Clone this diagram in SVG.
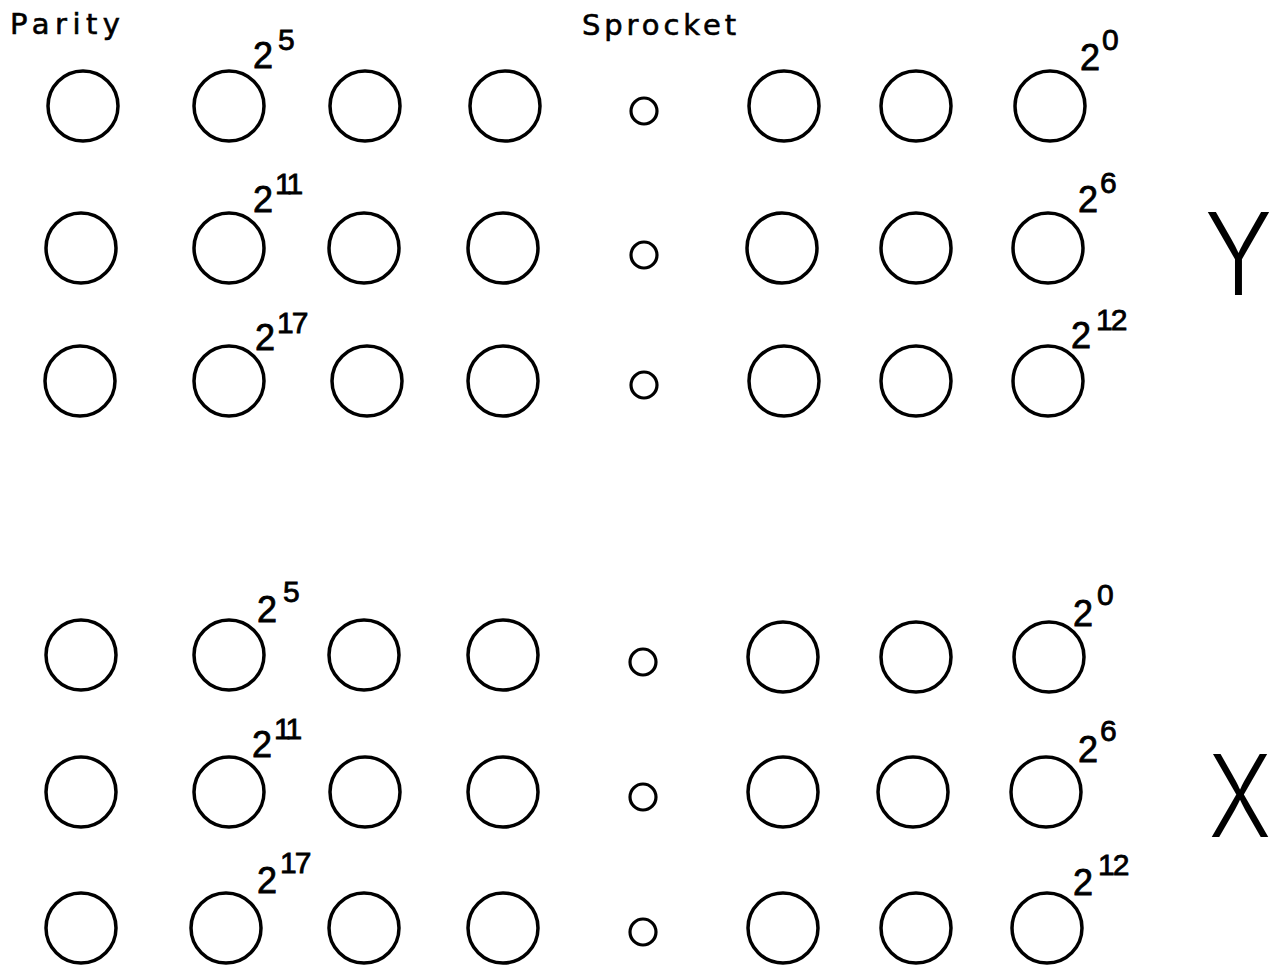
<svg xmlns="http://www.w3.org/2000/svg" width="1278" height="971" viewBox="0 0 1278 971">
<style>
.hole{fill:none;stroke:#000;stroke-width:3.5}
.spr{fill:none;stroke:#000;stroke-width:3.2}
.lbl{font-family:"DejaVu Sans","Liberation Sans",sans-serif;font-size:29px;fill:#000;stroke:#000;stroke-width:0.6}
.b{font-family:"Liberation Sans",Arial,sans-serif;font-size:36px;fill:#000;stroke:#000;stroke-width:0.8}
.e{font-family:"Liberation Sans",Arial,sans-serif;font-size:30px;fill:#000;stroke:#000;stroke-width:0.8}
.big{font-family:Inter,"Liberation Sans",sans-serif;font-weight:350;font-size:114px;fill:#000}
</style>
<rect width="1278" height="971" fill="#fff"/>
<g id="headers">
<text class="lbl" x="10" y="34" textLength="110" lengthAdjust="spacing">Parity</text>
<text class="lbl" x="582" y="35" textLength="154" lengthAdjust="spacing">Sprocket</text>
</g>
<g id="row1">
<circle class="hole" cx="83" cy="106" r="35"/><circle class="hole" cx="229" cy="106" r="35"/><circle class="hole" cx="365" cy="106" r="35"/><circle class="hole" cx="505" cy="106" r="35"/>
<circle class="spr" cx="644" cy="111" r="13"/>
<circle class="hole" cx="784" cy="106" r="35"/><circle class="hole" cx="916" cy="106" r="35"/><circle class="hole" cx="1050" cy="106" r="35"/>
<text class="b" x="253" y="68">2</text><text class="e" x="278" y="50">5</text>
<text class="b" x="1080" y="70">2</text><text class="e" x="1102" y="50">0</text>
</g>
<g id="row2">
<circle class="hole" cx="81" cy="248" r="35"/><circle class="hole" cx="229" cy="248" r="35"/><circle class="hole" cx="364" cy="248" r="35"/><circle class="hole" cx="503" cy="248" r="35"/>
<circle class="spr" cx="644" cy="255" r="13"/>
<circle class="hole" cx="782" cy="248" r="35"/><circle class="hole" cx="916" cy="248" r="35"/><circle class="hole" cx="1048" cy="248" r="35"/>
<text class="b" x="253" y="212">2</text><text class="e" x="275" y="194" letter-spacing="-3">11</text>
<text class="b" x="1078" y="212">2</text><text class="e" x="1100" y="193">6</text>
</g>
<g id="row3">
<circle class="hole" cx="80" cy="381" r="35"/><circle class="hole" cx="229" cy="381" r="35"/><circle class="hole" cx="367" cy="381" r="35"/><circle class="hole" cx="503" cy="381" r="35"/>
<circle class="spr" cx="644" cy="385" r="13"/>
<circle class="hole" cx="784" cy="381" r="35"/><circle class="hole" cx="916" cy="381" r="35"/><circle class="hole" cx="1048" cy="381" r="35"/>
<text class="b" x="255" y="350">2</text><text class="e" x="277" y="333" letter-spacing="-2">17</text>
<text class="b" x="1071" y="348">2</text><text class="e" x="1096" y="330" letter-spacing="-2">12</text>
</g>
<g id="row4">
<circle class="hole" cx="81" cy="655" r="35"/><circle class="hole" cx="229" cy="655" r="35"/><circle class="hole" cx="364" cy="655" r="35"/><circle class="hole" cx="503" cy="655" r="35"/>
<circle class="spr" cx="643" cy="662" r="13"/>
<circle class="hole" cx="783" cy="657" r="35"/><circle class="hole" cx="916" cy="657" r="35"/><circle class="hole" cx="1049" cy="657" r="35"/>
<text class="b" x="257" y="622">2</text><text class="e" x="283" y="602">5</text>
<text class="b" x="1073" y="626">2</text><text class="e" x="1097" y="605">0</text>
</g>
<g id="row5">
<circle class="hole" cx="81" cy="792" r="35"/><circle class="hole" cx="229" cy="792" r="35"/><circle class="hole" cx="365" cy="792" r="35"/><circle class="hole" cx="503" cy="792" r="35"/>
<circle class="spr" cx="643" cy="797" r="13"/>
<circle class="hole" cx="783" cy="792" r="35"/><circle class="hole" cx="913" cy="792" r="35"/><circle class="hole" cx="1046" cy="792" r="35"/>
<text class="b" x="252" y="757">2</text><text class="e" x="274" y="739" letter-spacing="-3">11</text>
<text class="b" x="1078" y="762">2</text><text class="e" x="1100" y="741">6</text>
</g>
<g id="row6">
<circle class="hole" cx="81" cy="928" r="35"/><circle class="hole" cx="226" cy="928" r="35"/><circle class="hole" cx="364" cy="928" r="35"/><circle class="hole" cx="503" cy="928" r="35"/>
<circle class="spr" cx="643" cy="932" r="13"/>
<circle class="hole" cx="783" cy="928" r="35"/><circle class="hole" cx="916" cy="928" r="35"/><circle class="hole" cx="1047" cy="928" r="35"/>
<text class="b" x="257" y="893">2</text><text class="e" x="280" y="873" letter-spacing="-2">17</text>
<text class="b" x="1073" y="895">2</text><text class="e" x="1098" y="875" letter-spacing="-2">12</text>
</g>
<g id="axes">
<text class="big" x="1205" y="295" textLength="67" lengthAdjust="spacingAndGlyphs">Y</text>
<text class="big" x="1209" y="837" textLength="62" lengthAdjust="spacingAndGlyphs">X</text>
</g>
<g id="connectors"/>
</svg>
